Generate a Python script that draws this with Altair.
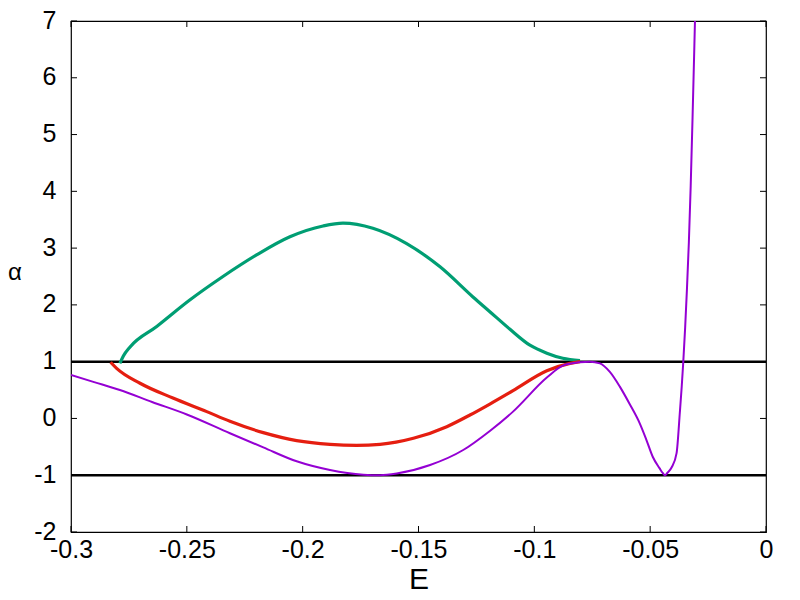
import altair as alt
import pandas as pd

# ---- data ----
purple_E = [-0.300, -0.290, -0.2789, -0.265, -0.250, -0.2314, -0.217, -0.2026, -0.1882,
            -0.1738, -0.1666, -0.1594, -0.145, -0.1307, -0.1192, -0.1092,
            -0.0946, -0.0877, -0.0803, -0.076, -0.0717, -0.0674, -0.0631, -0.0588,
            -0.0545, -0.0516, -0.0489, -0.0459, -0.0446, -0.0436, -0.0426, -0.0407, -0.0386,
            -0.0372, -0.0364, -0.0357, -0.0349, -0.0341, -0.0333, -0.0325, -0.0317,
            -0.0309, -0.0306]
purple_a = [0.765, 0.64, 0.50, 0.29, 0.07, -0.26, -0.51, -0.755, -0.908,
            -0.99, -1.0, -0.97, -0.82, -0.556, -0.22, 0.12,
            0.72, 0.93, 0.99, 1.0, 0.97, 0.82, 0.56, 0.25,
            -0.086, -0.38, -0.674, -0.88, -0.96, -1.0, -0.96, -0.86, -0.61,
            0.10, 0.55, 1.0, 1.6, 2.3, 3.1, 4.1, 5.3,
            6.6, 7.1]

red_E = [-0.2829, -0.2803, -0.2702, -0.256, -0.2414, -0.2314, -0.217, -0.2026, -0.1882,
         -0.1767, -0.1666, -0.1522, -0.1378, -0.1278, -0.1192, -0.1092, -0.0946,
         -0.0846, -0.0803]
red_a = [0.99, 0.883, 0.62, 0.36, 0.12, -0.05, -0.25, -0.39, -0.456,
         -0.473, -0.456, -0.35, -0.145, 0.06, 0.254, 0.49, 0.84,
         0.97, 1.0]

green_E = [-0.2789, -0.2774, -0.2745, -0.263, -0.2486, -0.2344, -0.2199, -0.2055, -0.1912,
           -0.1826, -0.1697, -0.1551, -0.1407, -0.1265, -0.1192, -0.1105, -0.1019,
           -0.0946, -0.0877, -0.0803]
green_a = [0.97, 1.10, 1.26, 1.62, 2.09, 2.5, 2.88, 3.2, 3.39,
           3.44, 3.35, 3.08, 2.67, 2.14, 1.88, 1.57, 1.29,
           1.15, 1.06, 1.02]

hlines = [1, -1]
x_ticks = [-0.3, -0.25, -0.2, -0.15, -0.1, -0.05, 0]
y_ticks = [-2, -1, 0, 1, 2, 3, 4, 5, 6, 7]

FONT = "Liberation Sans"
W, H = 695, 511
TICK = 6

df_p = pd.DataFrame({"E": purple_E, "a": purple_a})
df_r = pd.DataFrame({"E": red_E, "a": red_a})
df_g = pd.DataFrame({"E": green_E, "a": green_a})
df_h = pd.DataFrame({"a": hlines})
df_xt = pd.DataFrame({"v": x_ticks})
df_yt = pd.DataFrame({"v": y_ticks})

xs = alt.Scale(domain=[-0.3, 0], nice=False, zero=False)
ys = alt.Scale(domain=[-2, 7], nice=False, zero=False)

common = dict(labelFont=FONT, titleFont=FONT, labelColor="black", titleColor="black",
              grid=False, domain=False, ticks=False, tickSize=0, labelFlush=False,
              labelOverlap=False, titleFontWeight="normal")

x_lab = alt.Axis(orient="bottom", values=x_ticks, labelExpr="toString(datum.value)",
                 labelFontSize=25, labelPadding=5,
                 title="E", titleFontSize=30,
                 titleBaseline="alphabetic", titleY=56, **common)
y_lab = alt.Axis(orient="left", values=y_ticks, labelExpr="toString(datum.value)",
                 labelFontSize=25, labelPadding=15, labelOffset=-1,
                 title="α", titleFontSize=24, titleAngle=0,
                 titleAlign="center", titleBaseline="alphabetic", titleX=-56.5, titleY=258,
                 **common)

purple = alt.Chart(df_p).mark_line(color="#9400D3", strokeWidth=2, interpolate="monotone", clip=True).encode(
    x=alt.X("E:Q", scale=xs, axis=x_lab),
    y=alt.Y("a:Q", scale=ys, axis=y_lab),
)
red = alt.Chart(df_r).mark_line(color="#E51E10", strokeWidth=3.2, interpolate="monotone", clip=True).encode(
    x=alt.X("E:Q", scale=xs, axis=None),
    y=alt.Y("a:Q", scale=ys, axis=None),
)
green = alt.Chart(df_g).mark_line(color="#009E73", strokeWidth=3.2, interpolate="monotone", clip=True).encode(
    x=alt.X("E:Q", scale=xs, axis=None),
    y=alt.Y("a:Q", scale=ys, axis=None),
)
rules = alt.Chart(df_h).mark_rule(color="black", strokeWidth=2.5).encode(
    y=alt.Y("a:Q", scale=ys, axis=None),
)

# inward tick marks on all four sides
xt_bottom = alt.Chart(df_xt).mark_rule(color="black", strokeWidth=1).encode(
    x=alt.X("v:Q", scale=xs, axis=None), y=alt.value(H - TICK), y2=alt.value(H))
xt_top = alt.Chart(df_xt).mark_rule(color="black", strokeWidth=1).encode(
    x=alt.X("v:Q", scale=xs, axis=None), y=alt.value(0), y2=alt.value(TICK))
yt_left = alt.Chart(df_yt).mark_rule(color="black", strokeWidth=1).encode(
    y=alt.Y("v:Q", scale=ys, axis=None), x=alt.value(0), x2=alt.value(TICK))
yt_right = alt.Chart(df_yt).mark_rule(color="black", strokeWidth=1).encode(
    y=alt.Y("v:Q", scale=ys, axis=None), x=alt.value(W - TICK), x2=alt.value(W))

chart = alt.layer(xt_bottom, xt_top, yt_left, yt_right, rules, green, red, purple).resolve_axis(
    x="independent", y="independent"
).properties(
    width=W, height=H,
    autosize=alt.AutoSizeParams(type="none"),
    padding={"left": 63, "top": 13, "right": 20, "bottom": 70},
).configure_view(stroke="black", strokeWidth=1.2)

chart.save("out.html", embed_options={"renderer": "svg", "actions": False})
